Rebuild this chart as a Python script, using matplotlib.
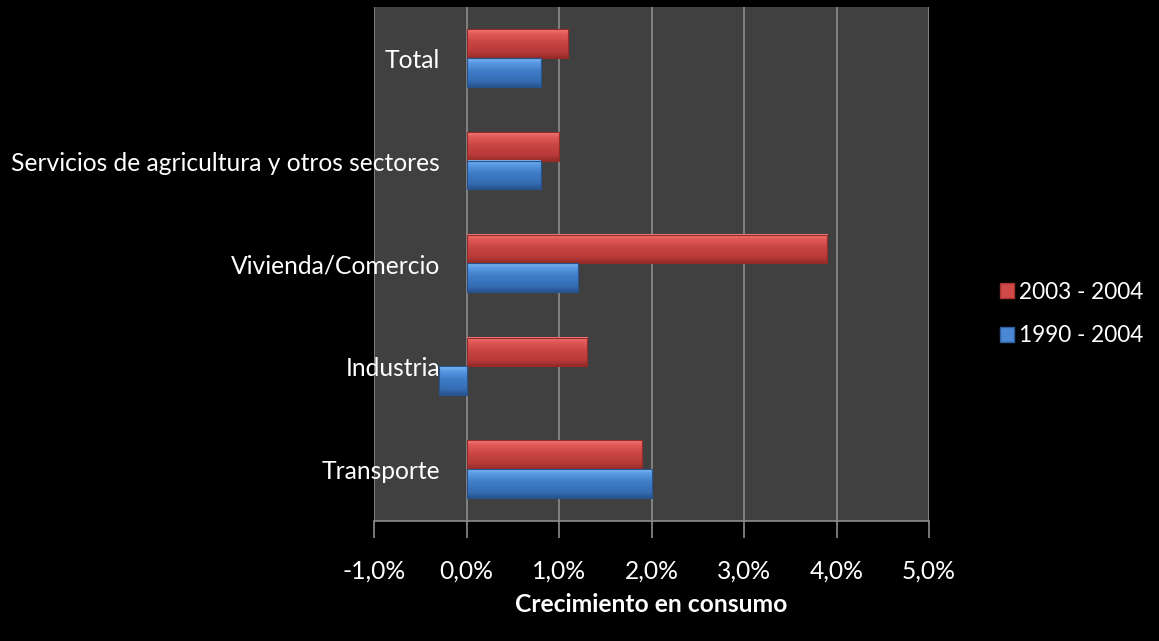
import numpy as np
import matplotlib
matplotlib.use("Agg")
import matplotlib.pyplot as plt
from matplotlib.patches import Patch
from matplotlib.colors import to_rgb

plt.rcParams['font.family'] = ['Lato', 'DejaVu Sans']

categories = ['Transporte', 'Industria', 'Vivienda/Comercio',
              'Servicios de agricultura y otros sectores', 'Total']
serie_2003 = [1.9, 1.3, 3.9, 1.0, 1.1]     # 2003 - 2004, %
serie_1990 = [2.0, -0.3, 1.2, 0.8, 0.8]    # 1990 - 2004, %
xticks = [-1, 0, 1, 2, 3, 4, 5]

RED = ['#f27a78', '#e25a58', '#c84644', '#b83a38', '#962c2a']
BLUE = ['#7ab8f4', '#5a9ae4', '#3f7cc8', '#356db4', '#27548e']
FS = 17.7


def gradient_bar(ax, y, w, h, stops):
    # vertical gradient, lighter at the top like the excel bevel
    cols = np.array([to_rgb(c) for c in stops])
    pos = np.array([0.0, 0.15, 0.45, 0.8, 1.0])
    t = np.linspace(0, 1, 40)
    img = np.stack([np.interp(t, pos, cols[:, k]) for k in range(3)], axis=1)
    img = img[:, None, :]
    x0, x1 = min(0, w), max(0, w)
    ax.imshow(img, extent=[x0, x1, y - h / 2, y + h / 2], aspect='auto',
              origin='upper', zorder=3, interpolation='bilinear')
    ax.plot([x0, x1, x1, x0, x0],
            [y - h / 2, y - h / 2, y + h / 2, y + h / 2, y - h / 2],
            color=stops[-1], lw=0.8, zorder=4)


fig = plt.figure(figsize=(11.59, 6.41), dpi=100, facecolor='black')
ax = fig.add_axes([374 / 1159, 120 / 641, 555 / 1159, 514 / 641])
ax.set_facecolor('#404040')

h = 0.28
ypos = np.arange(len(categories))
for i in ypos:
    gradient_bar(ax, i + h / 2 + 0.005, serie_2003[i], h, RED)
    gradient_bar(ax, i - h / 2 + 0.005, serie_1990[i], h, BLUE)

# category labels sit next to the zero line, like excel does
# (set_position resets the ticks, so it goes first)
ax.spines['left'].set_position(('data', 0))

ax.set_xlim(-1, 5)
ax.set_ylim(-0.5, len(categories) - 0.5)
ax.set_xticks(xticks)
ax.set_xticklabels([f'{v},0%' for v in xticks], color='white', fontsize=FS)
ax.tick_params(axis='x', length=12, color='#8c8c8c', width=1.2, pad=16)
ax.xaxis.grid(True, color='#8c8c8c', lw=1.2, zorder=1)
ax.set_axisbelow(True)

ax.set_yticks(ypos)
ax.set_yticklabels(categories, color='white', fontsize=FS)
ax.tick_params(axis='y', length=0, pad=19)

for s in ['left', 'top', 'right']:
    ax.spines[s].set_visible(False)
ax.spines['bottom'].set_color('#8c8c8c')
ax.spines['bottom'].set_linewidth(1.2)

ax.set_xlabel('Crecimiento en consumo', color='white', fontsize=FS,
              fontweight='bold', labelpad=7)

handles = [Patch(facecolor='#d24a48', edgecolor='#a83432', label='2003 - 2004'),
           Patch(facecolor='#4a88d4', edgecolor='#2f5f9e', label='1990 - 2004')]
fig.legend(handles=handles, loc='center left', bbox_to_anchor=(0.845, 0.51),
           frameon=False, labelcolor='white', fontsize=16.3,
           handlelength=0.65, handleheight=0.65, handletextpad=0.2,
           labelspacing=1.0)

fig.savefig('out.png', dpi=100, facecolor='black')
